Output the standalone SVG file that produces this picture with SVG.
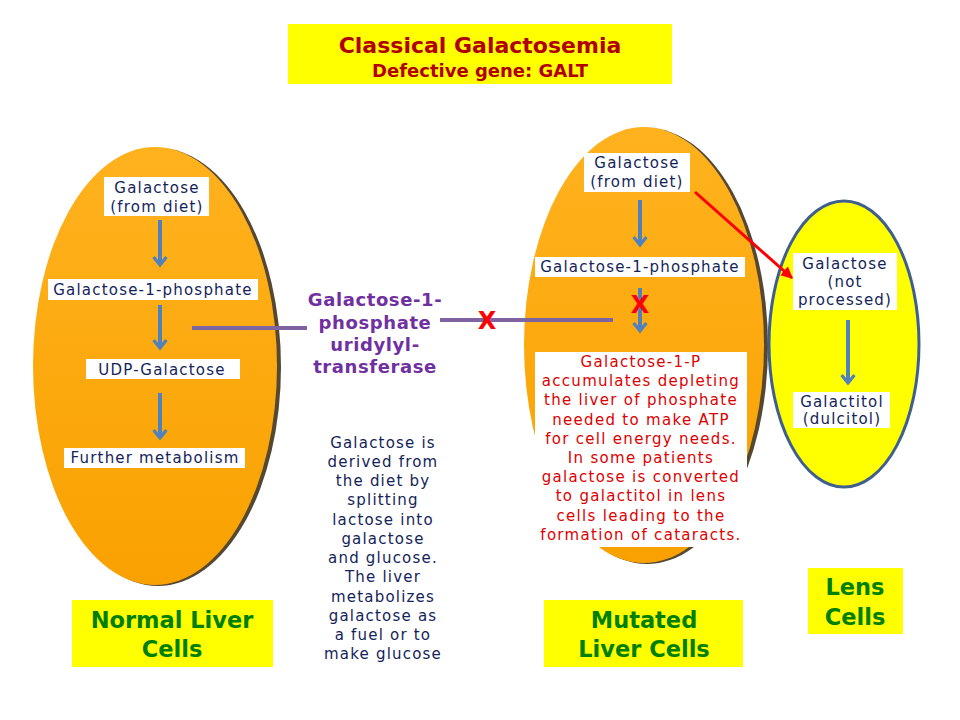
<svg xmlns="http://www.w3.org/2000/svg" width="960" height="720" viewBox="0 0 960 720">
<defs>
<linearGradient id="orange" x1="0" y1="0" x2="0" y2="1">
<stop offset="0" stop-color="#FFB21E"/>
<stop offset="1" stop-color="#F9A100"/>
</linearGradient>
<marker id="chev" viewBox="0 0 10 10" refX="6" refY="5" markerWidth="4" markerHeight="4" orient="auto" markerUnits="strokeWidth">
<path d="M1,1 L6,5 L1,9" fill="none" stroke="#4F81BD" stroke-width="2"/>
</marker>
<marker id="redhead" viewBox="0 0 10 10" refX="9" refY="5" markerWidth="4" markerHeight="4" orient="auto" markerUnits="strokeWidth">
<path d="M0,0 L10,5 L0,10 z" fill="#FF0000"/>
</marker>
</defs>
<style>
.t{font-family:"DejaVu Sans",Verdana,sans-serif;font-size:15px;letter-spacing:1.2px;fill:#14245A;text-anchor:middle}
.box{fill:#FFFFFF}
.ybox{fill:#FFFF00}
.lbl{font-family:"DejaVu Sans",Verdana,sans-serif;font-size:22.5px;font-weight:bold;fill:#008000;text-anchor:middle}
.red{font-family:"DejaVu Sans",Verdana,sans-serif;font-size:15px;letter-spacing:1.3px;fill:#E00000;text-anchor:middle}
.enz{font-family:"DejaVu Sans",Verdana,sans-serif;font-size:18px;letter-spacing:0.6px;font-weight:bold;fill:#7030A0;text-anchor:middle}
.arr{stroke:#4F81BD;stroke-width:4;fill:none;marker-end:url(#chev)}
.pl{stroke:#8064A2;stroke-width:4;fill:none}
.x{font-family:"DejaVu Sans",Verdana,sans-serif;font-size:24px;font-weight:bold;fill:#FF0000;text-anchor:middle}
</style>
<rect width="960" height="720" fill="#FFFFFF"/>

<g id="title">
<rect x="288" y="24" width="384" height="60" class="ybox"/>
<text x="480" y="53" font-family="DejaVu Sans,Verdana,sans-serif" font-size="22" font-weight="bold" fill="#B00000" text-anchor="middle">Classical Galactosemia</text>
<text x="480" y="77" font-family="DejaVu Sans,Verdana,sans-serif" font-size="18" font-weight="bold" fill="#B00000" text-anchor="middle">Defective gene: GALT</text>
</g>

<g id="normal-liver">
<ellipse cx="158" cy="367" rx="123" ry="219" fill="#2A1A00" opacity="0.8"/>
<ellipse cx="155" cy="366" rx="122" ry="219" fill="url(#orange)"/>
<rect x="104" y="177" width="105" height="39" class="box"/>
<text x="157" y="193" class="t">Galactose</text>
<text x="157" y="212" class="t">(from diet)</text>
<rect x="48" y="279" width="210" height="21" class="box"/>
<text x="153" y="295" class="t">Galactose-1-phosphate</text>
<rect x="86" y="359" width="154" height="20" class="box"/>
<text x="162" y="375" class="t">UDP-Galactose</text>
<rect x="64" y="448" width="181" height="20" class="box"/>
<text x="155" y="463" class="t">Further metabolism</text>
</g>

<g id="mutated-liver">
<ellipse cx="647" cy="346" rx="121" ry="218" fill="#2A1A00" opacity="0.8"/>
<ellipse cx="644" cy="345" rx="120" ry="218" fill="url(#orange)"/>
<rect x="584" y="153" width="106" height="39" class="box"/>
<text x="637" y="168" class="t">Galactose</text>
<text x="637" y="187" class="t">(from diet)</text>
<rect x="535" y="257" width="210" height="20" class="box"/>
<text x="640" y="272" class="t">Galactose-1-phosphate</text>
<rect x="535" y="352" width="212" height="195" class="box"/>
<g class="red">
<text x="641" y="367">Galactose-1-P</text>
<text x="641" y="386.2">accumulates depleting</text>
<text x="641" y="405.4">the liver of phosphate</text>
<text x="641" y="424.6">needed to make ATP</text>
<text x="641" y="443.8">for cell energy needs.</text>
<text x="641" y="463">In some patients</text>
<text x="641" y="482.2">galactose is converted</text>
<text x="641" y="501.4">to galactitol in lens</text>
<text x="641" y="520.6">cells leading to the</text>
<text x="641" y="539.8">formation of cataracts.</text>
</g>
</g>

<g id="lens">
<ellipse cx="844" cy="344" rx="75" ry="143" fill="#FFFF00" stroke="#3F5F8F" stroke-width="3"/>
<rect x="793" y="253" width="104" height="57" class="box"/>
<text x="845" y="269" class="t">Galactose</text>
<text x="845" y="287" class="t">(not</text>
<text x="845" y="305" class="t">processed)</text>
<rect x="793" y="392" width="97" height="36" class="box"/>
<text x="842" y="407" class="t">Galactitol</text>
<text x="842" y="424" class="t">(dulcitol)</text>
</g>

<g id="enzyme">
<text x="375" y="306" class="enz">Galactose-1-</text>
<text x="375" y="329" class="enz">phosphate</text>
<text x="375" y="351" class="enz">uridylyl-</text>
<text x="375" y="373" class="enz">transferase</text>
</g>

<g id="note">
<g class="t">
<text x="383" y="448">Galactose is</text>
<text x="383" y="467">derived from</text>
<text x="383" y="486">the diet by</text>
<text x="383" y="505">splitting</text>
<text x="383" y="525">lactose into</text>
<text x="383" y="544">galactose</text>
<text x="383" y="563">and glucose.</text>
<text x="383" y="582">The liver</text>
<text x="383" y="602">metabolizes</text>
<text x="383" y="621">galactose as</text>
<text x="383" y="640">a fuel or to</text>
<text x="383" y="659">make glucose</text>
</g>
</g>

<g id="label-normal">
<rect x="72" y="600" width="201" height="67" class="ybox"/>
<text x="172" y="628" class="lbl">Normal Liver</text>
<text x="172" y="657" class="lbl">Cells</text>
</g>
<g id="label-mutated">
<rect x="544" y="600" width="199" height="67" class="ybox"/>
<text x="644" y="628" class="lbl">Mutated</text>
<text x="644" y="657" class="lbl">Liver Cells</text>
</g>
<g id="label-lens">
<rect x="808" y="568" width="95" height="66" class="ybox"/>
<text x="855" y="595" class="lbl">Lens</text>
<text x="855" y="625" class="lbl">Cells</text>
</g>

<g id="connectors">
<line x1="160" y1="220" x2="160" y2="265" class="arr"/>
<line x1="160" y1="305" x2="160" y2="348" class="arr"/>
<line x1="160" y1="393" x2="160" y2="438" class="arr"/>
<line x1="640" y1="200" x2="640" y2="245" class="arr"/>
<line x1="640" y1="288" x2="640" y2="331" class="arr"/>
<line x1="848" y1="320" x2="848" y2="383" class="arr"/>
<line x1="192" y1="328" x2="307" y2="328" class="pl"/>
<line x1="440" y1="320" x2="613" y2="320" class="pl"/>
<line x1="695" y1="192" x2="792" y2="278" stroke="#FF0000" stroke-width="3" marker-end="url(#redhead)"/>
<text x="487" y="329" class="x">X</text>
<text x="640" y="313" class="x">X</text>
</g>
</svg>
